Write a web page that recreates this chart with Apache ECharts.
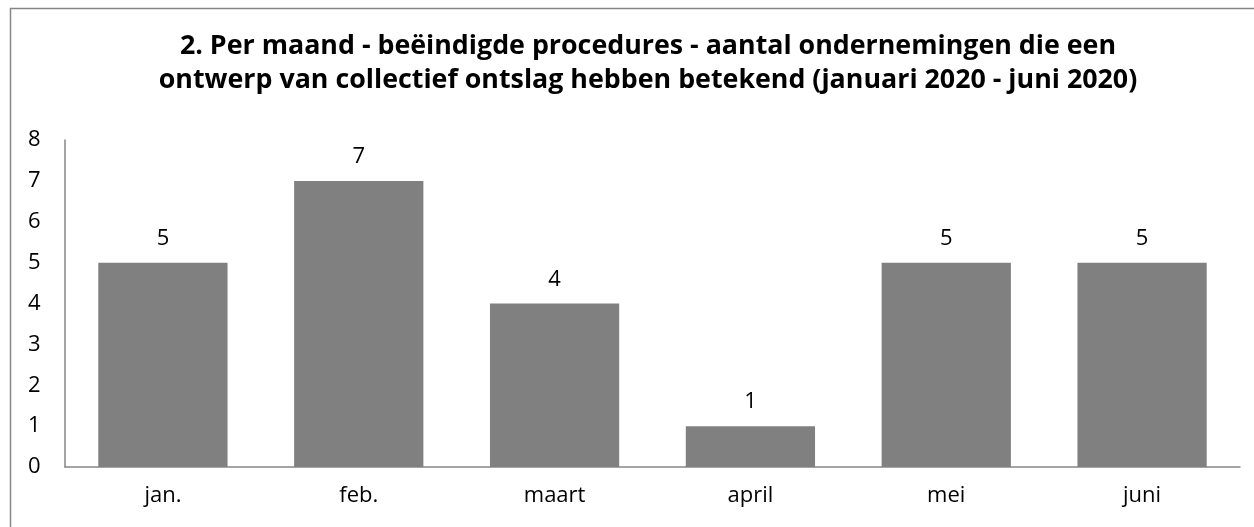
<!DOCTYPE html>
<html>
<head>
<meta charset="utf-8">
<script src="https://cdn.jsdelivr.net/npm/echarts@6/dist/echarts.min.js"></script>
<style>
  html, body { margin: 0; padding: 0; background: #fff; }
  #chart { width: 1254px; height: 527px; }
</style>
</head>
<body>
<div id="chart"></div>
<script>
var months = ['jan.', 'feb.', 'maart', 'april', 'mei', 'juni'];
var counts = [5, 7, 4, 1, 5, 5];
var yTicks = [0, 1, 2, 3, 4, 5, 6, 7, 8];

var font = '"Open Sans", Lato, sans-serif';
var myChart = echarts.init(document.getElementById('chart'));

var option = {
    animation: false,
    backgroundColor: '#fff',
    title: {
        text: '2. Per maand - beëindigde procedures - aantal ondernemingen die een\nontwerp van collectief ontslag hebben betekend (januari 2020 - juni 2020)',
        left: 643,
        textAlign: 'center',
        top: 24,
        textStyle: {
            fontFamily: font,
            fontWeight: 'bold',
            fontSize: 26.8,
            lineHeight: 34,
            color: '#000'
        }
    },
    graphic: [{
        type: 'rect',
        shape: { x: 10.5, y: 8.5, width: 1260, height: 540 },
        style: { fill: 'none', stroke: '#868686', lineWidth: 1.5 },
        silent: true
    }],
    grid: { left: 65, right: 14, top: 140, bottom: 60 },
    xAxis: {
        type: 'category',
        data: months,
        axisLine: { lineStyle: { color: '#868686', width: 1.5 } },
        axisTick: { show: false },
        axisLabel: { fontFamily: font, fontSize: 22, color: '#000', margin: 18 }
    },
    yAxis: {
        type: 'value',
        min: yTicks[0],
        max: yTicks[yTicks.length - 1],
        interval: 1,
        axisLine: { show: true, lineStyle: { color: '#868686', width: 1.5 } },
        axisTick: { show: false },
        splitLine: { show: false },
        axisLabel: { fontFamily: font, fontSize: 22, color: '#000', margin: 37, align: 'left' }
    },
    series: [{
        type: 'bar',
        data: counts,
        barCategoryGap: '34%',
        itemStyle: { color: '#808080' },
        label: {
            show: true,
            position: 'top',
            distance: 13,
            fontFamily: font,
            fontSize: 22,
            color: '#000'
        }
    }]
};
myChart.setOption(option);
</script>
</body>
</html>
